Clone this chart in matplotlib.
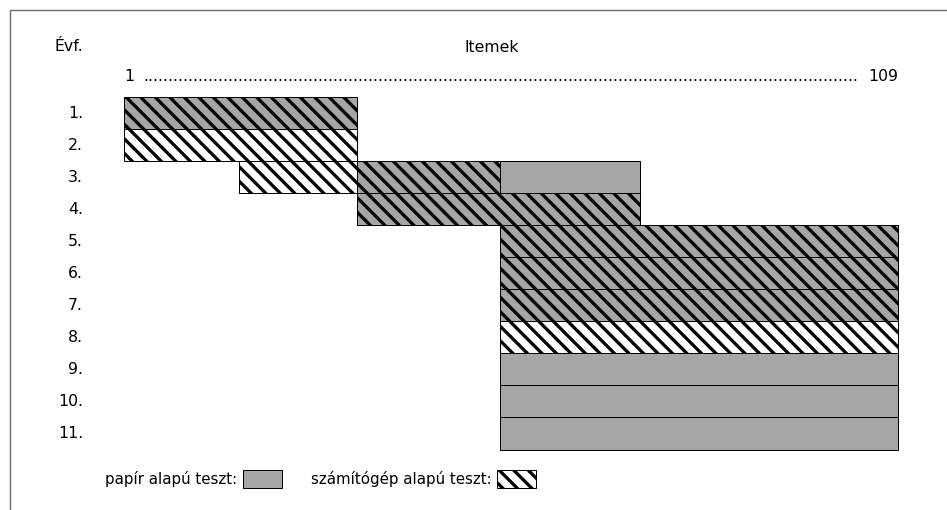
import matplotlib
matplotlib.use('Agg')
import matplotlib.pyplot as plt
from matplotlib.patches import Patch
from matplotlib.lines import Line2D

# grades (rows) and the item ranges tested on paper / computer
grades = ['1.', '2.', '3.', '4.', '5.', '6.', '7.', '8.', '9.', '10.', '11.']
n_items = 109

# one entry per block: row index (1-based), first item, last item, kind
seg_row = [1, 2, 3, 3, 3, 4, 5, 6, 7, 8, 9, 10, 11]
seg_start = [0, 0, 16, 32.5, 52.5, 32.5, 52.5, 52.5, 52.5, 52.5, 52.5, 52.5, 52.5]
seg_end = [32.5, 32.5, 32.5, 52.5, 72, 72, 108, 108, 108, 108, 108, 108, 108]
seg_kind = ['both', 'computer', 'computer', 'both', 'paper', 'both',
            'both', 'both', 'both', 'computer', 'paper', 'paper', 'paper']

legend_labels = ['papír alapú teszt:', 'számítógép alapú teszt:']

DPI = 87
W, H = 947, 510
GRAY = '#a6a6a6'

plt.rcParams['font.family'] = ['DejaVu Sans']
plt.rcParams['hatch.linewidth'] = 2.7

fig = plt.figure(figsize=(W / DPI, H / DPI), dpi=DPI)
ax = fig.add_axes([0, 0, 1, 1])

# item 0 at px 124, item 108 at px 898 ; row 1 centre at px 113, 32.05 px per row
sx = (898 - 124) / 108.0
sy = 32.05
ax.set_xlim(-124 / sx, (W - 124) / sx)
ax.set_ylim(1 + (H - 113) / sy, 1 - 113 / sy)
ax.axis('off')

HATCH = '\\\\'
styles = {
    'paper': dict(color=GRAY, hatch=None),
    'computer': dict(color='white', hatch=HATCH),
    'both': dict(color=GRAY, hatch=HATCH),
}
lw = 72.0 / DPI
for r, s, e, k in zip(seg_row, seg_start, seg_end, seg_kind):
    st = styles[k]
    ax.barh(r, e - s, left=s, height=1.0, color=st['color'], hatch=st['hatch'],
            edgecolor='black', linewidth=lw)

fs = 13
for i, g in enumerate(grades):
    ax.text((83 - 124) / sx, i + 1, g, ha='right', va='center', fontsize=fs)

ax.text((55 - 124) / sx, 1 + (46 - 113) / sy, 'Évf.', ha='left', va='center', fontsize=fs)
ax.text((492 - 124) / sx, 1 + (47 - 113) / sy, 'Itemek', ha='center', va='center', fontsize=fs)

y_top = 1 + (76 - 113) / sy
ax.text(0, y_top, '1', ha='left', va='center', fontsize=fs)
ax.text((143 - 124) / sx, y_top, '.' * 143, ha='left', va='center', fontsize=fs)
ax.text(n_items - 1, y_top, str(n_items), ha='right', va='center', fontsize=fs)

handles = [Patch(facecolor=GRAY, edgecolor='black', linewidth=lw),
           Patch(facecolor='white', edgecolor='black', hatch=HATCH, linewidth=lw)]
fig.legend(handles, legend_labels, loc='center left',
           bbox_to_anchor=(105 / W, 1 - 479 / H), ncol=2, markerfirst=False,
           frameon=False, fontsize=12.4, handlelength=2.6, handleheight=1.5,
           handletextpad=0.4, columnspacing=1.9, borderpad=0, borderaxespad=0)

# thin frame around the picture (left and top edge visible)
fig.add_artist(Line2D([9.5 / W, 9.5 / W, 1], [0, 1 - 9.5 / H, 1 - 9.5 / H],
                      transform=fig.transFigure, color='#707070', linewidth=1.2))

fig.savefig('out.png', dpi=DPI)
